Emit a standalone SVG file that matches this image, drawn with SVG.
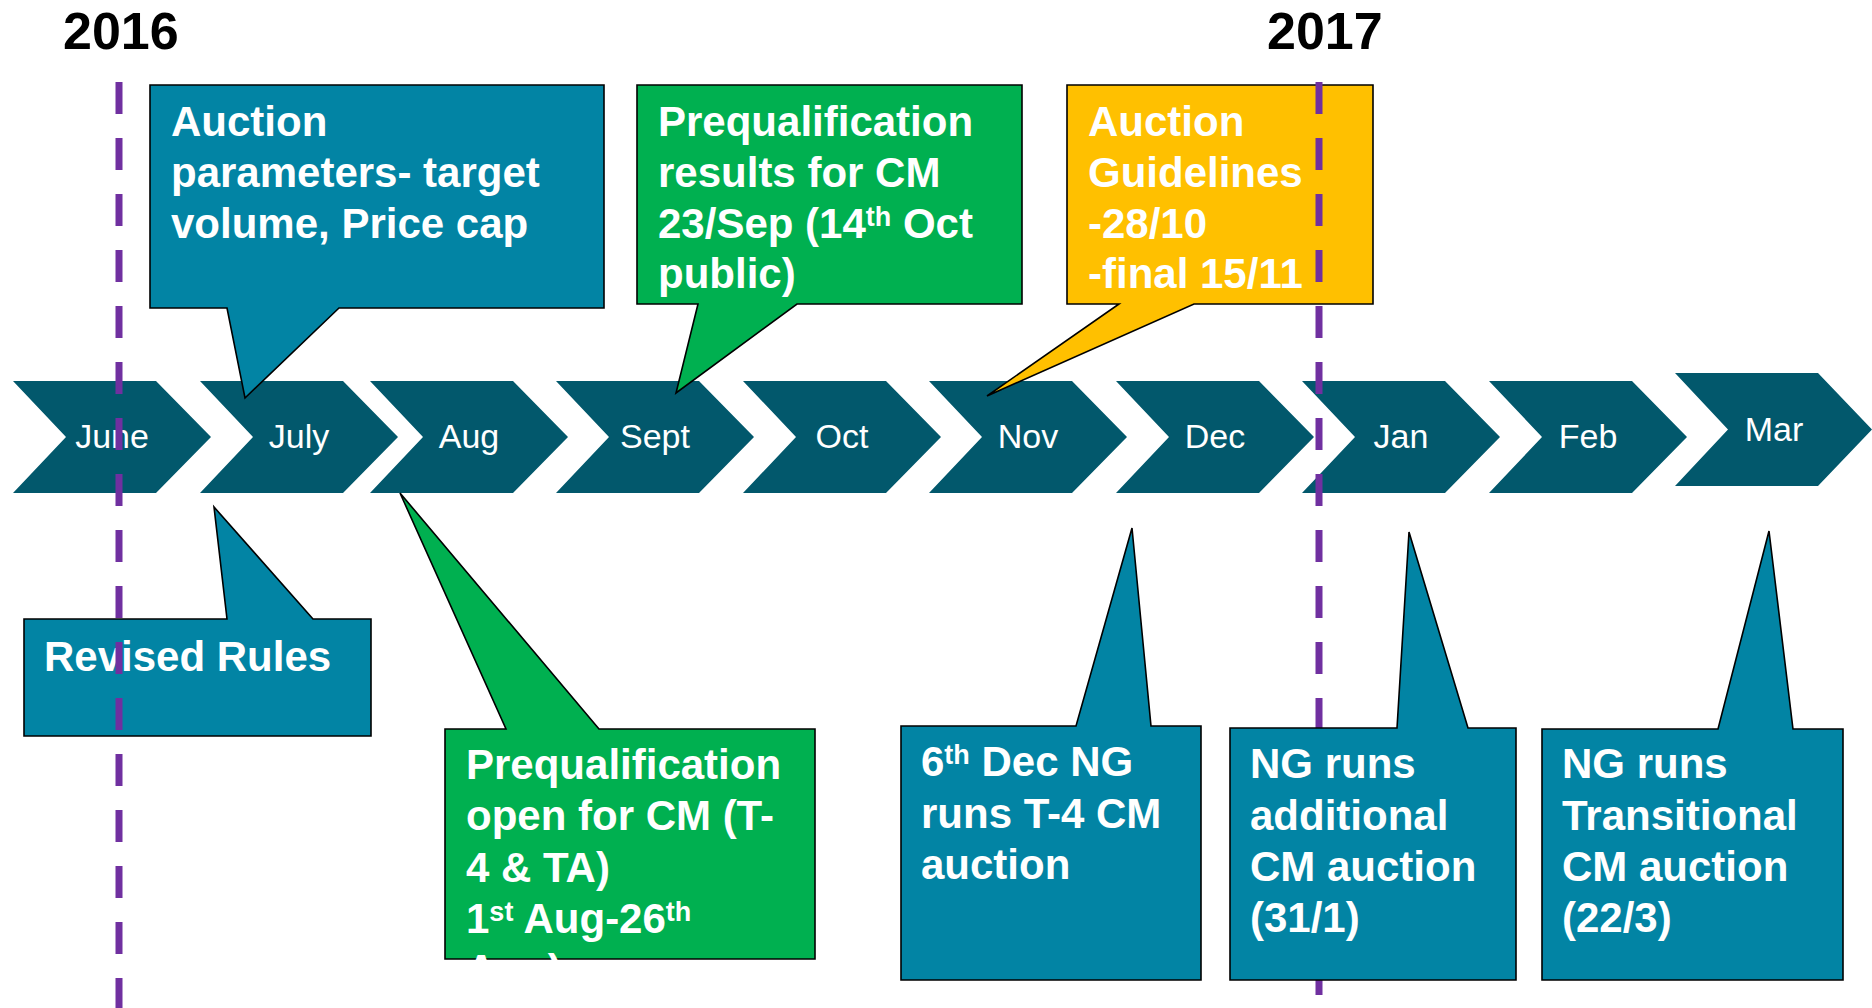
<svg xmlns="http://www.w3.org/2000/svg" width="1872" height="1008" viewBox="0 0 1872 1008">
<style>
.chev{fill:#02586c;}
.mon{font-family:"Liberation Sans",Arial,sans-serif;font-size:34px;fill:#fff;text-anchor:middle;}
.year{font-family:"Liberation Sans",Arial,sans-serif;font-size:52px;font-weight:bold;fill:#000;}
.co{stroke:#000;stroke-width:1.6;stroke-linejoin:miter;}
.teal{fill:#0284a4;}
.green{fill:#00b050;}
.gold{fill:#ffc000;}
.lbl{font-family:"Liberation Sans",Arial,sans-serif;font-size:42px;font-weight:bold;fill:#fff;}
.sup{font-size:27px;}
.yl{stroke:#7030a0;stroke-width:7;stroke-dasharray:32 24;fill:none;}
</style>
<defs>
<clipPath id="clip5"><rect x="445" y="729" width="370" height="231"/></clipPath>
</defs>
<rect width="1872" height="1008" fill="#fff"/>
<text class="year" x="63" y="49">2016</text>
<text class="year" x="1267" y="49">2017</text>
<g id="timeline">
<g id="m-june"><path class="chev" d="M13,381 H156 L211,437 L156,493 H13 L66,437 Z"/><text class="mon" x="112" y="448">June</text></g>
<g id="m-july"><path class="chev" d="M200,381 H343 L398,437 L343,493 H200 L253,437 Z"/><text class="mon" x="299" y="448">July</text></g>
<g id="m-aug"><path class="chev" d="M370,381 H513 L568,437 L513,493 H370 L423,437 Z"/><text class="mon" x="469" y="448">Aug</text></g>
<g id="m-sept"><path class="chev" d="M556,381 H699 L754,437 L699,493 H556 L609,437 Z"/><text class="mon" x="655" y="448">Sept</text></g>
<g id="m-oct"><path class="chev" d="M743,381 H886 L941,437 L886,493 H743 L796,437 Z"/><text class="mon" x="842" y="448">Oct</text></g>
<g id="m-nov"><path class="chev" d="M929,381 H1072 L1127,437 L1072,493 H929 L982,437 Z"/><text class="mon" x="1028" y="448">Nov</text></g>
<g id="m-dec"><path class="chev" d="M1116,381 H1259 L1314,437 L1259,493 H1116 L1169,437 Z"/><text class="mon" x="1215" y="448">Dec</text></g>
<g id="m-jan"><path class="chev" d="M1302,381 H1445 L1500,437 L1445,493 H1302 L1355,437 Z"/><text class="mon" x="1401" y="448">Jan</text></g>
<g id="m-feb"><path class="chev" d="M1489,381 H1632 L1687,437 L1632,493 H1489 L1542,437 Z"/><text class="mon" x="1588" y="448">Feb</text></g>
<g id="m-mar"><path class="chev" d="M1675,373 H1818 L1872,429.5 L1818,486 H1675 L1728,429.5 Z"/><text class="mon" x="1774" y="441">Mar</text></g>
</g>
<g id="auction-parameters">
<path class="co teal" d="M150,85 H604 V308 H339 L245,398 L227,308 H150 Z"/>
<text class="lbl"><tspan x="171" y="136">Auction</tspan><tspan x="171" y="187">parameters- target</tspan><tspan x="171" y="238">volume, Price cap</tspan></text>
</g>
<g id="prequal-results">
<path class="co green" d="M637,85 H1022 V304 H797 L676,393 L698,304 H637 Z"/>
<text class="lbl"><tspan x="658" y="136">Prequalification</tspan><tspan x="658" y="187">results for CM</tspan><tspan x="658" y="238">23/Sep (14<tspan class="sup" dy="-12">th</tspan><tspan dy="12"> Oct</tspan></tspan><tspan x="658" y="288">public)</tspan></text>
</g>
<g id="auction-guidelines">
<path class="co gold" d="M1067,85 H1373 V304 H1194 L987,396 L1119,304 H1067 Z"/>
<text class="lbl"><tspan x="1088" y="136">Auction</tspan><tspan x="1088" y="187">Guidelines</tspan><tspan x="1088" y="238">-28/10</tspan><tspan x="1088" y="288">-final 15/11</tspan></text>
</g>
<g id="revised-rules">
<path class="co teal" d="M24,619 H227 L214,507 L313,619 H371 V736 H24 Z"/>
<text class="lbl" x="44" y="671">Revised Rules</text>
</g>
<g id="year-markers">
<line class="yl" x1="119" y1="82" x2="119" y2="1008"/>
<line class="yl" x1="1319" y1="82" x2="1319" y2="995"/>
</g>
<g id="prequal-open">
<path class="co green" d="M445,729 H506 L400,493 L599,729 H815 V959 H445 Z"/>
<text class="lbl" clip-path="url(#clip5)"><tspan x="466" y="779">Prequalification</tspan><tspan x="466" y="830">open for CM (T-</tspan><tspan x="466" y="882">4 &amp; TA)</tspan><tspan x="466" y="933">1<tspan class="sup" dy="-12">st</tspan><tspan dy="12"> Aug-26</tspan><tspan class="sup" dy="-12">th</tspan></tspan><tspan x="466" y="984">Aug)</tspan></text>
</g>
<g id="t4-auction">
<path class="co teal" d="M901,726 H1076 L1132,528 L1151,726 H1201 V980 H901 Z"/>
<text class="lbl"><tspan x="921" y="776">6<tspan class="sup" dy="-12">th</tspan><tspan dy="12"> Dec NG</tspan></tspan><tspan x="921" y="828">runs T-4 CM</tspan><tspan x="921" y="879">auction</tspan></text>
</g>
<g id="additional-auction">
<path class="co teal" d="M1230,728 H1397 L1409,532 L1468,728 H1516 V980 H1230 Z"/>
<text class="lbl"><tspan x="1250" y="778">NG runs</tspan><tspan x="1250" y="830">additional</tspan><tspan x="1250" y="881">CM auction</tspan><tspan x="1250" y="932">(31/1)</tspan></text>
</g>
<g id="transitional-auction">
<path class="co teal" d="M1542,729 H1718 L1769,531 L1793,729 H1843 V980 H1542 Z"/>
<text class="lbl"><tspan x="1562" y="778">NG runs</tspan><tspan x="1562" y="830">Transitional</tspan><tspan x="1562" y="881">CM auction</tspan><tspan x="1562" y="932">(22/3)</tspan></text>
</g>
</svg>
